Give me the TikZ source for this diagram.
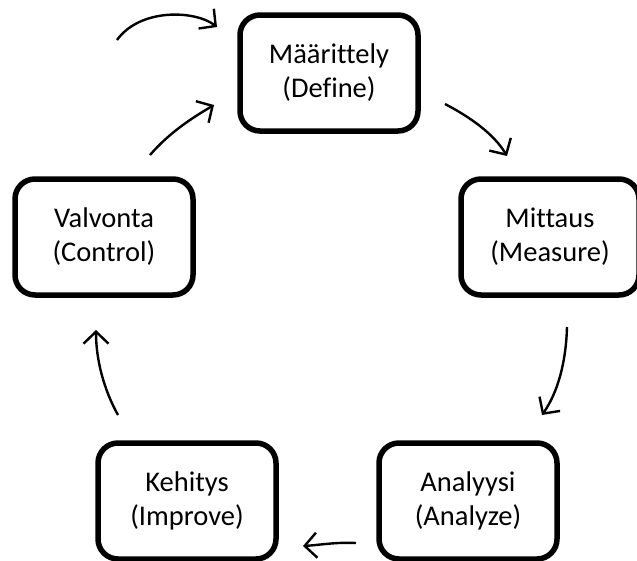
\documentclass[tikz,border=0pt]{standalone}
\usepackage{fontspec}
\setmainfont[Ligatures={NoCommon}]{Carlito}
\usetikzlibrary{arrows.meta}
\begin{document}
\begin{tikzpicture}[x=1pt,y=-1pt,
  phase/.style={draw=black, line width=5.5pt, rounded corners=20pt,
    minimum width=178pt, minimum height=116pt, align=center,
    font=\fontsize{28.5}{34}\selectfont, inner sep=0pt},
  flow/.style={line width=2.4pt, -{Straight Barb[length=12pt,width=25pt,line width=2.4pt]}}]
  \useasboundingbox (0,0) rectangle (637,560);

  % the five DMAIC phases
  \node[phase] (def) at (329,73)  {Määrittely\\(Define)};
  \node[phase] (mea) at (550,237) {Mittaus\\(Measure)};
  \node[phase] (ana) at (468,501) {Analyysi\\(Analyze)};
  \node[phase] (imp) at (187,501) {Kehitys\\(Improve)};
  \node[phase] (con) at (104,237) {Valvonta\\(Control)};

  % arrow end points between the boxes
  \coordinate (in0) at (117,40);   \coordinate (in1) at (217,27);
  \coordinate (cd0) at (150,155);  \coordinate (cd1) at (214,105);
  \coordinate (dm0) at (445,104);  \coordinate (dm1) at (507,156);
  \coordinate (ma0) at (567,327);  \coordinate (ma1) at (542,415);
  \coordinate (ai0) at (356,543);  \coordinate (ai1) at (303,546);
  \coordinate (ic0) at (118,415);  \coordinate (ic1) at (96,330);

  % cycle arrows
  \draw[flow] (in0) .. controls (140,8) and (195,10) .. (in1);
  \draw[flow] (cd0) .. controls (170,132) and (192,118) .. (cd1);
  \draw[flow] (dm0) .. controls (470,117) and (494,134) .. (dm1);
  \draw[flow] (ma0) .. controls (566,362) and (558,392) .. (ma1);
  \draw[flow] (ai0) .. controls (335,542) and (320,545) .. (ai1);
  \draw[flow] (ic0) .. controls (104,390) and (96,360) .. (ic1);
\end{tikzpicture}
\end{document}
